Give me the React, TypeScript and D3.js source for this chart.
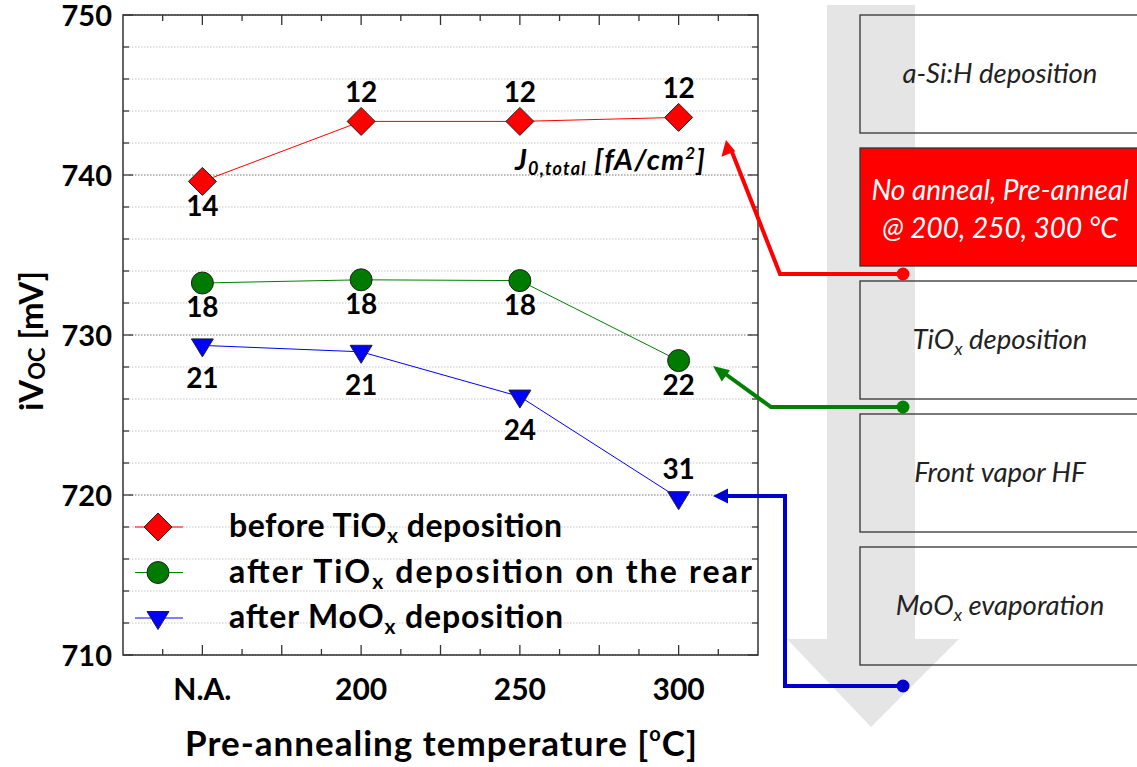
import React from "react";
import * as d3 from "d3";

const categories = ["N.A.", "200", "250", "300"];
const beforeTiOx = [739.6, 743.35, 743.35, 743.6];
const afterTiOx = [733.25, 733.45, 733.4, 728.4];
const afterMoOx = [729.35, 728.95, 726.15, 719.8];
const j0Before = ["14", "12", "12", "12"];
const j0AfterTiOx = ["18", "18", "18", "22"];
const j0AfterMoOx = ["21", "21", "24", "31"];
const posBefore = ["below", "above", "above", "above"];
const posAfterTiOx = ["below", "below", "below", "below"];
const posAfterMoOx = ["below", "below", "below", "above"];
const yTicks = [710, 720, 730, 740, 750];
const legendNames = [
  ["before TiO", " deposition"],
  ["after TiO", " deposition on the rear"],
  ["after MoO", " deposition"],
];
const processSteps = ["a-Si:H deposition", "anneal", "TiOx deposition", "Front vapor HF", "MoOx evaporation"];

const FONT = "Lato, 'Open Sans', sans-serif";
const W = 1137;
const H = 767;
const L = 123, R = 758, T = 15, B = 655;

export default function App() {
  const x = d3.scaleLinear().domain([-0.5, categories.length - 0.5]).range([L, R]);
  const y = d3.scaleLinear().domain([710, 750]).range([B, T]);

  const minorY = d3.range(710, 750.01, 2);
  const xTickVals = d3.range(-0.25, 3.5, 0.25);
  const line = d3.line<number>().x((_, i) => x(i)).y((d) => y(d));

  const diamond = (cx: number, cy: number, r = 14) =>
    `M${cx},${cy - r}L${cx + r},${cy}L${cx},${cy + r}L${cx - r},${cy}Z`;
  const triDown = (cx: number, cy: number) =>
    `M${cx - 11},${cy - 6.5}L${cx + 11},${cy - 6.5}L${cx},${cy + 11.5}Z`;

  const series = [
    { vals: beforeTiOx, labels: j0Before, pos: posBefore, color: "#ff0000", fill: "#ff0000", shape: "diamond", above: -29, below: 25 },
    { vals: afterTiOx, labels: j0AfterTiOx, pos: posAfterTiOx, color: "#008000", fill: "#007a00", shape: "circle", above: -27, below: 24 },
    { vals: afterMoOx, labels: j0AfterMoOx, pos: posAfterMoOx, color: "#0000ff", fill: "#0000ff", shape: "tri", above: -29, below: 33 },
  ];
  const legendLens = [333, 523, 334];

  const marker = (shape: string, cx: number, cy: number, fill: string, key: string) => {
    if (shape === "diamond") return <path key={key} d={diamond(cx, cy)} fill={fill} stroke="#222" strokeWidth={1} />;
    if (shape === "circle") return <circle key={key} cx={cx} cy={cy} r={11} fill={fill} stroke="#222" strokeWidth={1} />;
    return <path key={key} d={triDown(cx, cy)} fill={fill} stroke="#222" strokeWidth={1} />;
  };

  const boxTop = 15, boxH = 118, boxStep = 133;
  const boxL = 860, boxR = 1150;
  const textCx = 1000;
  const dotX = 903;

  return (
    <svg width={W} height={H} style={{ position: "absolute", left: 0, top: 0, background: "#fff" }} fontFamily={FONT}>
      <path d="M827,5L915,5L915,639L959,639L871,727L787,639L827,639Z" fill="#e5e5e5" />
      {processSteps.map((s, i) => {
        const y0 = boxTop + i * boxStep;
        const isRed = i === 1;
        return (
          <g key={s}>
            <rect x={boxL} y={y0} width={boxR - boxL} height={boxH} fill={isRed ? "#ff0000" : "none"} stroke="#333" strokeWidth={1.3} />
            {isRed ? (
              <text fill="#fff" fontStyle="italic" fontSize={28} textAnchor="middle">
                <tspan x={textCx} y={y0 + 52}>No anneal, Pre-anneal</tspan>
                <tspan x={textCx} y={y0 + 90}>@ 200, 250, 300 °C</tspan>
              </text>
            ) : s.includes("Ox") ? (
              <text x={textCx} y={y0 + 68} fill="#222" fontStyle="italic" fontSize={27.5} textAnchor="middle">
                {s.split("Ox")[0]}O<tspan fontSize={18} dy={6}>x</tspan><tspan dy={-6}>{s.split("Ox")[1]}</tspan>
              </text>
            ) : (
              <text x={textCx} y={y0 + 68} fill="#222" fontStyle="italic" fontSize={27.5} textAnchor="middle">{s}</text>
            )}
          </g>
        );
      })}

      {minorY.map((v) => (
        <line key={"g" + v} x1={L + 6} x2={R - 6} y1={y(v)} y2={y(v)}
          stroke={v % 10 === 0 ? "#777" : "#c8c8c8"} strokeWidth={1} strokeDasharray="1.5,1.5" />
      ))}

      <rect x={L} y={T} width={R - L} height={B - T} fill="none" stroke="#333" strokeWidth={1.5} />
      {minorY.map((v) => {
        const len = v % 10 === 0 ? 10 : 6;
        return (
          <g key={"yt" + v} stroke="#333" strokeWidth={1.3}>
            <line x1={L} x2={L + len} y1={y(v)} y2={y(v)} />
            <line x1={R} x2={R - len} y1={y(v)} y2={y(v)} />
          </g>
        );
      })}
      {xTickVals.map((v) => {
        const len = Math.abs(v * 2 - Math.round(v * 2)) < 1e-6 ? 10 : 6;
        return (
          <g key={"xt" + v} stroke="#333" strokeWidth={1.3}>
            <line x1={x(v)} x2={x(v)} y1={B} y2={B - len} />
            <line x1={x(v)} x2={x(v)} y1={T} y2={T + len} />
          </g>
        );
      })}

      {yTicks.map((v) => (
        <text key={"yl" + v} x={L - 11} y={y(v) + 11} textAnchor="end" fontWeight={700} fontSize={29} fill="#000">{v}</text>
      ))}
      {categories.map((c, i) => (
        <text key={"xl" + c} x={x(i)} y={B + 45} textAnchor="middle" fontWeight={700} fontSize={30} fill="#000">{c}</text>
      ))}

      <text transform={`translate(43,341) rotate(-90)`} textAnchor="middle" fontWeight={700} fontSize={33} fill="#000">
        iV<tspan fontSize={22} dy={2}>OC</tspan><tspan dy={-2}> [mV]</tspan>
      </text>
      <text x={185} y={756} fontWeight={700} fontSize={35} fill="#000" textLength={512} lengthAdjust="spacing">
        Pre-annealing temperature [<tspan fontSize={20} dy={-15}>o</tspan><tspan dy={15}>C]</tspan>
      </text>

      {series.map((s, si) => (
        <g key={"s" + si}>
          <path d={line(s.vals) || ""} fill="none" stroke={s.color} strokeWidth={1} />
          {s.vals.map((v, i) => marker(s.shape, x(i), y(v), s.fill, `m${si}-${i}`))}
          {s.vals.map((v, i) => (
            <text key={`l${si}-${i}`} x={x(i)} y={y(v) + (s.pos[i] === "above" ? s.above : s.below) + 10}
              textAnchor="middle" fontWeight={700} fontSize={28} fill="#000">{s.labels[i]}</text>
          ))}
        </g>
      ))}

      <text x={515} y={170} fontWeight={700} fontStyle="italic" fontSize={29} fill="#000" textLength={190} lengthAdjust="spacing">
        J<tspan fontSize={18} dy={5}>0,total</tspan><tspan dy={-5}> [fA/cm</tspan><tspan fontSize={17} dy={-11}>2</tspan><tspan dy={11}>]</tspan>
      </text>

      {series.map((s, si) => {
        const ly = 527 + si * 45.5;
        const names = legendNames[si];
        return (
          <g key={"lg" + si}>
            <line x1={135} x2={183} y1={ly} y2={ly} stroke={s.color} strokeWidth={1} />
            {marker(s.shape, 158, ly, s.fill, "lm" + si)}
            <text x={229} y={ly + 10} fontWeight={700} fontSize={32} fill="#000" textLength={legendLens[si]} lengthAdjust="spacing">
              {names[0]}<tspan fontSize={21} dy={6}>x</tspan><tspan dy={-6}>{names[1]}</tspan>
            </text>
          </g>
        );
      })}

      <g fill="none" strokeWidth={4} strokeLinejoin="miter">
        <polyline points={`${dotX},274 780,274 732,152`} stroke="#ff0000" />
        <polyline points={`${dotX},407 771,407 724,373`} stroke="#008000" />
        <polyline points={`${dotX},686 785,686 785,496 725,496`} stroke="#0000cc" />
      </g>
      <path d="M726,140L721.4,156.8L735.3,151.3Z" fill="#ff0000" />
      <path d="M713,366L721.8,381.6L730,370.3Z" fill="#008000" />
      <path d="M713,496L728,488.5L728,503.5Z" fill="#0000cc" />
      <circle cx={dotX} cy={274} r={6.5} fill="#ff0000" />
      <circle cx={dotX} cy={407} r={6.5} fill="#008000" />
      <circle cx={dotX} cy={686} r={6.5} fill="#0000cc" />
    </svg>
  );
}
